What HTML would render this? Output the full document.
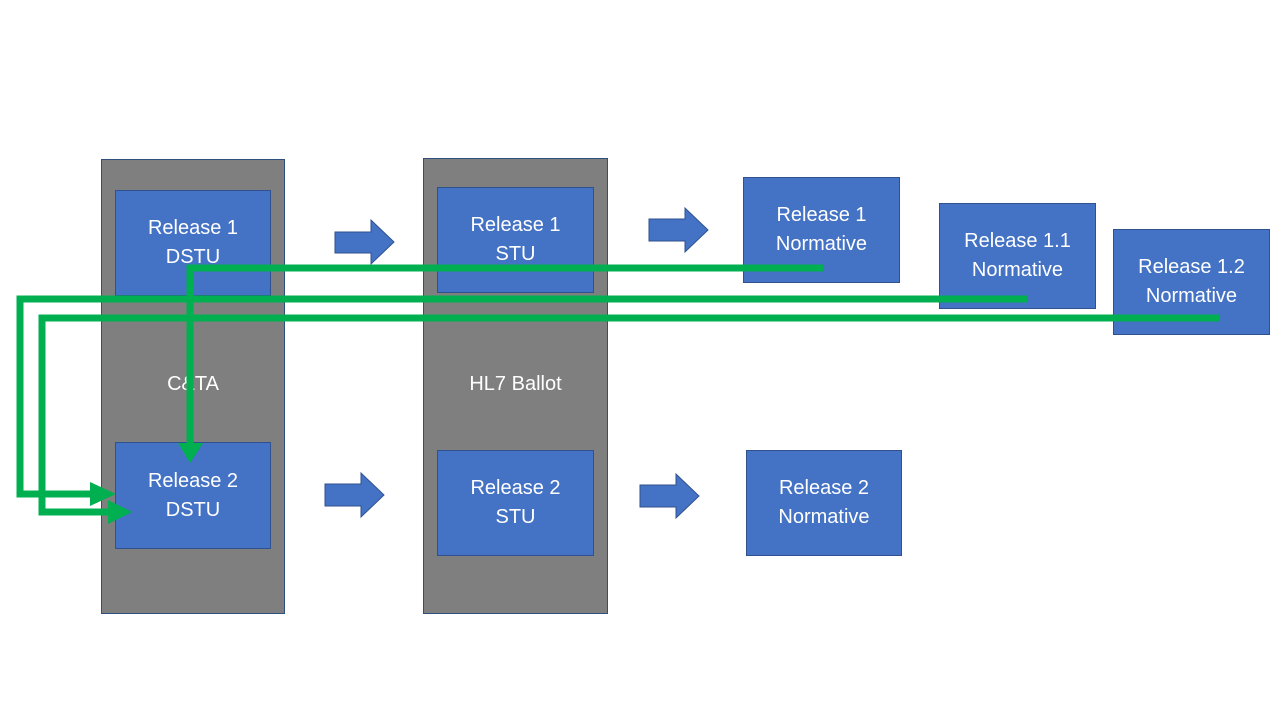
<!DOCTYPE html>
<html><head><style>
body{margin:0;width:1280px;height:720px;background:#fff;overflow:hidden;position:relative;font-family:"Liberation Sans",sans-serif}
.g{position:absolute;background:#7f7f7f;border:1px solid #2f4f7f;box-sizing:border-box}
.b{position:absolute;background:#4472c4;border:1px solid #2f528f;box-sizing:border-box;color:#fff;font-size:20px;display:flex;align-items:center;justify-content:center;text-align:center;line-height:29px}
.t{position:absolute;color:#fff;font-size:20px;text-align:center}
</style></head><body>
<div class="g" style="left:101px;top:159px;width:184px;height:455px"></div>
<div class="g" style="left:423px;top:158px;width:185px;height:456px"></div>
<div class="t" style="left:101px;width:184px;top:373px">C&amp;TA</div>
<div class="t" style="left:423px;width:185px;top:373px">HL7 Ballot</div>
<div class="b" style="left:115px;top:190px;width:156px;height:106px">Release 1<br>DSTU</div>
<div class="b" style="left:115px;top:442px;width:156px;height:107px">Release 2<br>DSTU</div>
<div class="b" style="left:437px;top:187px;width:157px;height:106px">Release 1<br>STU</div>
<div class="b" style="left:437px;top:450px;width:157px;height:106px">Release 2<br>STU</div>
<div class="b" style="left:743px;top:177px;width:157px;height:106px">Release 1<br>Normative</div>
<div class="b" style="left:939px;top:203px;width:157px;height:106px">Release 1.1<br>Normative</div>
<div class="b" style="left:1113px;top:229px;width:157px;height:106px">Release 1.2<br>Normative</div>
<div class="b" style="left:746px;top:450px;width:156px;height:106px">Release 2<br>Normative</div>
<svg width="1280" height="720" style="position:absolute;left:0;top:0">
<g fill="#4472c4" stroke="#2f528f" stroke-width="1">
<polygon points="335,232 371,232 371,220 394,242 371,264 371,253 335,253"/>
<polygon points="649,219 685,219 685,208 708,230 685,252 685,241 649,241"/>
<polygon points="325,484 361,484 361,473 384,495 361,517 361,506 325,506"/>
<polygon points="640,485 676,485 676,474 699,496 676,518 676,507 640,507"/>
</g>
<g fill="none" stroke="#00b050" stroke-width="7">
<polyline points="823,268 190,268 190,445"/>
<polyline points="1027,299 20,299 20,494 92,494"/>
<polyline points="1219,318 42,318 42,512 110,512"/>
</g>
<g fill="#00b050">
<polygon points="178,443 203,443 190,463"/>
<polygon points="90,482 90,506 116,494"/>
<polygon points="108,500 108,524 132,512"/>
</g>
</svg>
</body></html>
